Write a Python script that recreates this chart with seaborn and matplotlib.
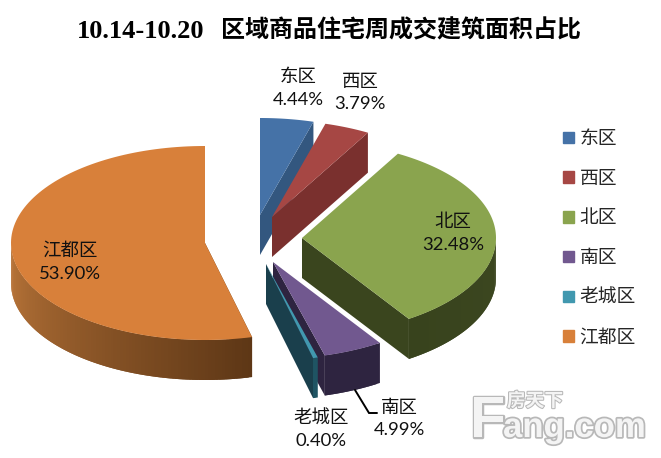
import numpy as np
import pandas as pd
import seaborn as sns
import matplotlib
matplotlib.use("Agg")
import matplotlib.pyplot as plt
import matplotlib.patheffects as pe
from matplotlib.patches import Patch

# Data
regions = ["东区", "西区", "北区", "南区", "老城区", "江都区"]
shares = [4.44, 3.79, 32.48, 4.99, 0.40, 53.90]
title_date = "10.14-10.20"
title_text = "区域商品住宅周成交建筑面积占比"

# Look
top_colors = ["#4572A7", "#A64744", "#8AA44E", "#71588F", "#4198AF", "#D8803A"]
cut_colors = ["#33577F", "#7A302E", "#3A451E", "#2E2440", "#1A3F4C", "#5E3716"]
wall_colors = [("#33577F", "#33577F"), ("#7A302E", "#7A302E"), ("#3C4720", "#38431D"),
               ("#2E2440", "#2E2440"), ("#1F5463", "#1F5463"), ("#BC773A", "#5E3716")]
apex = [(260, 215), (272, 217), (302, 238), (273, 262), (266, 264), (205, 243)]
label_xy = [(298, 88), (360, 93), (453, 233), (399, 419), (321, 429), (70, 262)]
rx, ry, depth = 194, 97, 40

sns.set_theme(style="white")
plt.rcParams["font.family"] = ["Liberation Serif", "Noto Sans CJK SC", "DejaVu Sans"]
df = pd.DataFrame({"region": regions, "share": shares})
df["end"] = df["share"].cumsum() * 3.6
df["start"] = df["end"] - df["share"] * 3.6


def rim(cx, cy, a, b, n=2):
    t = np.radians(np.linspace(a, b, n))
    return cx + rx * np.sin(t), cy - ry * np.cos(t)


def draw_slice(ax, i):
    row = df.iloc[i]
    cx, cy = apex[i]
    a, b = row["start"], row["end"]
    # cut face: the orange slice shows its first edge, the others their last
    edge = a if i == 5 else b
    xs, ys = rim(cx, cy, edge, edge)
    ax.fill([cx, xs[0], xs[0], cx], [cy, ys[0], ys[0] + depth, cy + depth], color=cut_colors[i], lw=0)
    # outer wall, only the part that faces the viewer
    w0, w1 = max(a, 90), min(b, 270)
    if w1 > w0:
        steps = max(int((w1 - w0) / 1.0), 2)
        edges = np.linspace(w0, w1, steps + 1)
        pal = sns.blend_palette(wall_colors[i], steps)
        if i == 5:
            pal = pal[::-1]
        # overlap the strips so no seams show
        for k in range(steps):
            xs, ys = rim(cx, cy, edges[k], edges[min(k + 2, steps)], 4)
            ax.fill(np.r_[xs, xs[::-1]], np.r_[ys, ys[::-1] + depth], color=pal[k], lw=0)
    # top
    xs, ys = rim(cx, cy, a, b, 120)
    ax.fill(np.r_[cx, xs], np.r_[cy, ys], color=top_colors[i], lw=0)


fig = plt.figure(figsize=(6.61, 4.58), dpi=100)
ax = fig.add_axes([0, 0, 1, 1])
ax.set_xlim(0, 661)
ax.set_ylim(458, 0)
ax.axis("off")

for i in [5, 0, 1, 2, 3, 4]:
    draw_slice(ax, i)

# leader line for 南区
ax.plot([355, 369, 377], [390, 413, 413], color="black", lw=1.4, solid_joinstyle="miter")

ax.text(77, 31, title_date, ha="left", va="center", fontsize=19, fontweight="bold", color="black")
ax.text(581, 31, title_text, ha="right", va="center", fontsize=17.3, fontweight="bold", color="black")

for i, (x, y) in enumerate(label_xy):
    ax.text(x, y, df["region"][i] + "\n" + f"{df['share'][i]:.2f}%", ha="center", va="center",
            fontsize=13.3, linespacing=1.5, family=["Lato", "Noto Sans CJK SC"], color="#111111")

handles = [Patch(color=c, label=r) for c, r in zip(top_colors, regions)]
ax.legend(handles=handles, loc="upper left", bbox_to_anchor=(563 / 661, 1 - 128 / 458),
          frameon=False, labelspacing=1.0, handlelength=0.58, handleheight=0.58,
          handletextpad=0.3, borderpad=0, borderaxespad=0,
          prop={"family": ["Noto Sans CJK SC"], "size": 13.5})

# watermark
wm = [pe.withStroke(linewidth=2.5, foreground="#B8B8B8")]
ax.text(470, 437, "F", fontsize=42, fontweight="bold", color="#F4F4F4",
        family="Liberation Sans", path_effects=wm)
ax.text(503, 437, "ang.com", fontsize=25, fontweight="bold", color="#F4F4F4",
        family="Liberation Sans", path_effects=wm)
ax.text(535, 401, "房天下", ha="center", va="center", fontsize=13.5, fontweight="bold", color="#F4F4F4",
        family="Noto Sans CJK SC", path_effects=[pe.withStroke(linewidth=1.5, foreground="#B8B8B8")])

fig.savefig("out.png", dpi=100)
